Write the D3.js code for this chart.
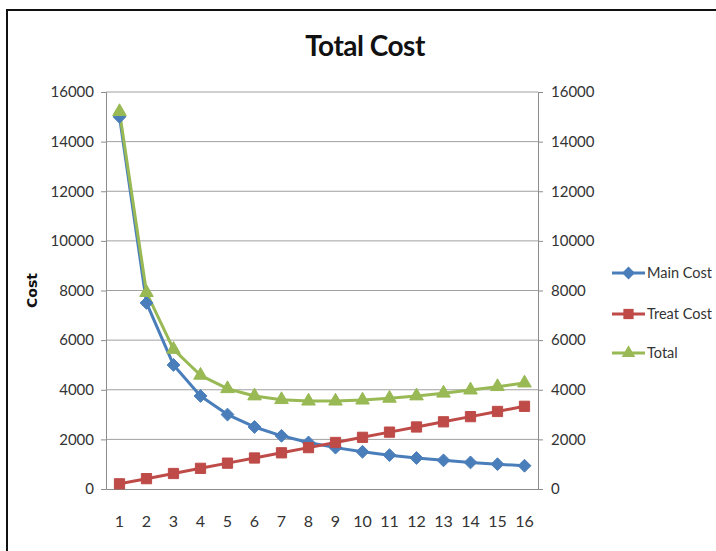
<!DOCTYPE html>
<html>
<head>
<meta charset="utf-8">
<script src="https://cdn.jsdelivr.net/npm/d3@7"></script>
<style>
  html, body { margin: 0; padding: 0; background: #fff; }
  svg { display: block; }
  text { font-family: Lato, "Open Sans", sans-serif; fill: #333; }
</style>
</head>
<body>
<svg id="chart" width="716" height="551"></svg>
<script>
// Period numbers along the x axis
const periods = [1, 2, 3, 4, 5, 6, 7, 8, 9, 10, 11, 12, 13, 14, 15, 16];

// Cost series per period
const mainCost  = [15000, 7500, 5000, 3750, 3000, 2500, 2143, 1875, 1667, 1500, 1364, 1250, 1154, 1071, 1000, 938];
const treatCost = [208, 417, 625, 833, 1042, 1250, 1458, 1667, 1875, 2083, 2292, 2500, 2708, 2917, 3125, 3333];
const totalCost = [15208, 7917, 5625, 4583, 4042, 3750, 3601, 3542, 3542, 3583, 3656, 3750, 3862, 3988, 4125, 4271];

// Axis ticks (same on both sides)
const yTicks = [0, 2000, 4000, 6000, 8000, 10000, 12000, 14000, 16000];

const seriesNames = ["Main Cost", "Treat Cost", "Total"];
const seriesColors = ["#4a7ebb", "#be4b48", "#98b954"];
const seriesShapes = [d3.symbolDiamond2, d3.symbolSquare, d3.symbolTriangle];

const series = [mainCost, treatCost, totalCost].map((values, i) => ({
  name: seriesNames[i], color: seriesColors[i], shape: seriesShapes[i], values
}));

const svg = d3.select("#chart");
const W = 716, H = 551;
const plot = { left: 106, right: 538, top: 92, bottom: 489 };

// Outer frame
svg.append("rect")
  .attr("x", 7).attr("y", 10)
  .attr("width", W + 10).attr("height", H + 10)
  .attr("fill", "#fff").attr("stroke", "#111").attr("stroke-width", 2);

// Title
svg.append("text")
  .attr("x", 365).attr("y", 56)
  .attr("text-anchor", "middle")
  .style("font-size", "28px").style("font-weight", "bold").style("fill", "#111")
  .style("letter-spacing", "-0.5px")
  .text("Total Cost");

const x = d3.scaleBand().domain(periods).range([plot.left, plot.right]);
const y = d3.scaleLinear().domain([0, 16000]).range([plot.bottom, plot.top]);

// Gridlines
svg.append("g")
  .selectAll("line").data(yTicks.filter(t => t > 0)).join("line")
  .attr("x1", plot.left).attr("x2", plot.right)
  .attr("y1", d => y(d)).attr("y2", d => y(d))
  .attr("stroke", "#a0a0a0").attr("stroke-width", 1);

// Left axis
const leftAxis = svg.append("g")
  .attr("transform", `translate(${plot.left},0)`)
  .call(d3.axisLeft(y).tickValues(yTicks).tickFormat(d3.format("d")).tickSize(5).tickPadding(7));
// Right axis
const rightAxis = svg.append("g")
  .attr("transform", `translate(${plot.right},0)`)
  .call(d3.axisRight(y).tickValues(yTicks).tickFormat(d3.format("d")).tickSize(5).tickPadding(8));
// Bottom axis
const bottomAxis = svg.append("g")
  .attr("transform", `translate(0,${plot.bottom})`)
  .call(d3.axisBottom(x).tickSize(0).tickPadding(27));

[leftAxis, rightAxis, bottomAxis].forEach(g => {
  g.select(".domain").attr("stroke", "#8c8c8c").attr("stroke-width", 1);
  g.selectAll(".tick line").attr("stroke", "#8c8c8c");
  g.selectAll(".tick text").style("font-size", "15px").style("fill", "#333")
    .style("font-family", 'Lato, "Open Sans", sans-serif');
});
bottomAxis.selectAll(".tick text").style("font-size", "16px");

// Y axis title
svg.append("text")
  .attr("transform", `translate(37,${(plot.top + plot.bottom) / 2}) rotate(-90)`)
  .attr("text-anchor", "middle")
  .style("font-size", "14px").style("font-weight", "bold").style("fill", "#111")
  .style("font-family", '"DejaVu Sans", sans-serif')
  .text("Cost");

// Lines and markers
const line = d3.line().x((d, i) => x(periods[i]) + x.bandwidth() / 2).y(d => y(d));

series.forEach(s => {
  svg.append("path")
    .datum(s.values)
    .attr("d", line)
    .attr("fill", "none")
    .attr("stroke", s.color)
    .attr("stroke-width", 3)
    .attr("stroke-linejoin", "round");
});
const markerSize = shape => shape === d3.symbolTriangle ? 80 : 105;
series.forEach(s => {
  svg.append("g").selectAll("path").data(s.values).join("path")
    .attr("transform", (d, i) => `translate(${x(periods[i]) + x.bandwidth() / 2},${y(d)})`)
    .attr("d", d3.symbol().type(s.shape).size(markerSize(s.shape)))
    .attr("fill", s.color)
    .attr("stroke", s.color)
    .attr("stroke-width", 1);
});

// Legend
const legend = svg.append("g");
const legendY = [273, 314, 353];
series.forEach((s, i) => {
  const g = legend.append("g").attr("transform", `translate(612,${legendY[i]})`);
  g.append("line").attr("x1", 0).attr("x2", 33).attr("y1", 0).attr("y2", 0)
    .attr("stroke", s.color).attr("stroke-width", 3);
  g.append("path").attr("transform", "translate(16.5,0)")
    .attr("d", d3.symbol().type(s.shape).size(markerSize(s.shape)))
    .attr("fill", s.color);
  g.append("text").attr("x", 35).attr("y", 5)
    .style("font-size", "14.5px").style("fill", "#333")
    .text(s.name);
});
</script>
</body>
</html>
